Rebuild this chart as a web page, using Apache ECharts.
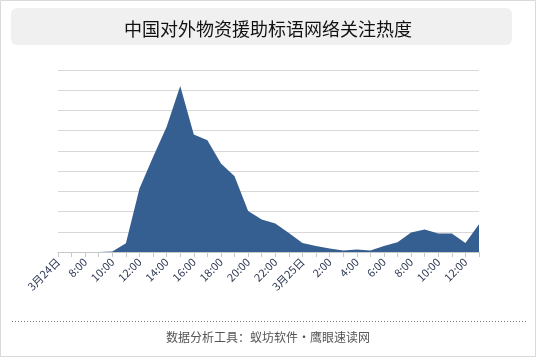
<!DOCTYPE html>
<html><head><meta charset="utf-8">
<script src="https://cdn.jsdelivr.net/npm/echarts@6/dist/echarts.min.js"></script>
<style>html,body{margin:0;padding:0;background:#fff}#c{width:536px;height:357px}</style>
</head><body><div id="c"></div>
<script>
var titleText = '中国对外物资援助标语网络关注热度';
var footerText = '数据分析工具：蚁坊软件·鹰眼速读网';
var categories = ['3月24日','7:00','8:00','9:00','10:00','11:00','12:00','13:00','14:00','15:00','16:00','17:00','18:00','19:00','20:00','21:00','22:00','23:00','3月25日','1:00','2:00','3:00','4:00','5:00','6:00','7:00','8:00','9:00','10:00','11:00','12:00','13:00'];
var heat = [0,0,0,0,0.3,4.3,31.4,47,61.9,82.1,58.1,55.3,43.8,37.5,20.3,16.1,14.1,9.4,4.5,3.0,1.7,0.8,1.2,0.8,3.0,4.8,9.6,11.1,9.1,9.1,4.5,13.7];

var chart = echarts.init(document.getElementById('c'), null, {renderer:'canvas'});
chart.setOption({
  animation:false,
  title:{text:titleText,left:'center',top:15,textStyle:{fontSize:18,fontWeight:'normal',color:'#111',fontFamily:'"Noto Sans CJK SC", sans-serif'}},
  graphic:[
    {type:'rect',shape:{x:0.5,y:0.5,width:535,height:356},style:{fill:'none',stroke:'#d9d9d9',lineWidth:1},z:-10},
    {type:'rect',shape:{x:11,y:8,width:501,height:37,r:6},style:{fill:'#f0f0f0'},z:-5},
    {type:'line',shape:{x1:12,y1:321.5,x2:527,y2:321.5},style:{stroke:'#777',lineWidth:1,lineDash:[1,2]}},
    {type:'text',left:'center',top:331,style:{text:footerText,fill:'#555',fontSize:12,fontFamily:'"Noto Sans CJK SC", sans-serif'}}
  ],
  grid:{left:58,right:57,top:70,bottom:105},
  xAxis:{type:'category',boundaryGap:false,data:categories,
    axisLine:{lineStyle:{color:'#c8c8c8'}},
    axisTick:{show:true,interval:0,length:5,lineStyle:{color:'#c8c8c8'}},
    axisLabel:{interval:1,rotate:45,fontSize:11,color:'#2f3a55',margin:8,fontFamily:'"Noto Sans CJK SC", sans-serif'}
  },
  yAxis:{type:'value',min:0,max:90,interval:10,axisLabel:{show:false},axisLine:{show:false},axisTick:{show:false},
    splitLine:{lineStyle:{color:'#d8d8d8'}}},
  series:[{type:'line',data:heat,symbol:'none',lineStyle:{width:0,color:'#365f91'},itemStyle:{color:'#365f91'},areaStyle:{color:'#365f91',opacity:1}}]
});
</script></body></html>
